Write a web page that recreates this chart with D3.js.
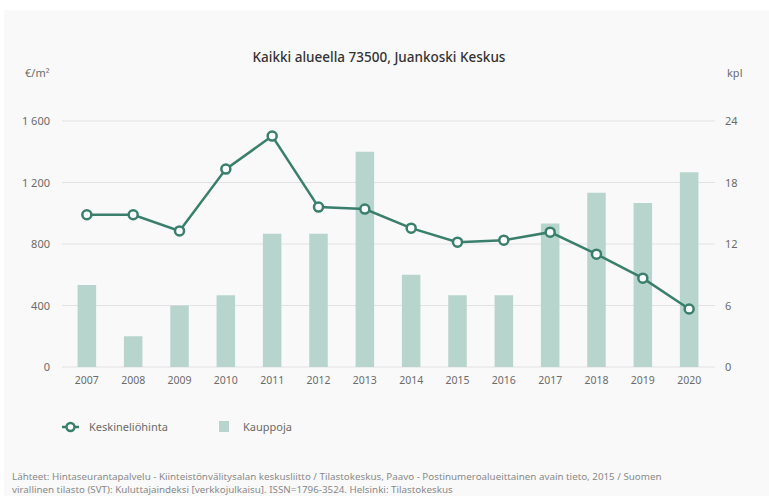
<!DOCTYPE html>
<html>
<head>
<meta charset="utf-8">
<script src="https://cdn.jsdelivr.net/npm/d3@7"></script>
<style>
  body { margin: 0; background: #fff; font-family: "Noto Sans", "Open Sans", sans-serif; }
  svg text { fill: #6b6b6b; }
</style>
</head>
<body>
<div id="chart"></div>
<script>
// Data
const years = ["2007","2008","2009","2010","2011","2012","2013","2014","2015","2016","2017","2018","2019","2020"];
const hinta = [990, 990, 885, 1287, 1502, 1040, 1027, 903, 812, 825, 877, 734, 578, 377];
const kauppoja = [8, 3, 6, 7, 13, 13, 21, 9, 7, 7, 14, 17, 16, 19];
const leftTicks = [0, 400, 800, 1200, 1600];
const rightTicks = [0, 6, 12, 18, 24];

const W = 769, H = 496;
const svg = d3.select("#chart").append("svg")
  .attr("width", W).attr("height", H);

// panel
svg.append("rect").attr("x", 4).attr("y", 10).attr("width", W - 4).attr("height", H - 10)
  .attr("fill", "#f9f9f9");

const x = d3.scaleBand().domain(years).range([66, 710]).paddingInner(0.6).paddingOuter(0.25);
const yL = d3.scaleLinear().domain([0, 1600]).range([367, 121]);
const yR = d3.scaleLinear().domain([0, 24]).range([367, 121]);

// gridlines
svg.append("g").selectAll("line").data(leftTicks).enter().append("line")
  .attr("x1", 62).attr("x2", 715)
  .attr("y1", d => yL(d)).attr("y2", d => yL(d))
  .attr("stroke", "#e2e2e2").attr("stroke-width", 1);

// left axis labels
svg.append("g").selectAll("text").data(leftTicks).enter().append("text")
  .attr("x", 50).attr("y", d => yL(d) + 4)
  .attr("text-anchor", "end").attr("font-size", 11)
  .text(d => d3.format(",")(d).replace(",", " "));

// right axis labels
svg.append("g").selectAll("text").data(rightTicks).enter().append("text")
  .attr("x", 725).attr("y", d => yR(d) + 4)
  .attr("font-size", 11)
  .text(d => d);

// unit labels
svg.append("text").attr("x", 25).attr("y", 77).attr("font-size", 11).text("€/m²");
svg.append("text").attr("x", 727).attr("y", 77).attr("font-size", 11).text("kpl");

// title
svg.append("text").attr("x", 379).attr("y", 62).attr("text-anchor", "middle")
  .attr("font-size", 13.5).attr("font-weight", 500).style("fill", "#333")
  .text("Kaikki alueella 73500, Juankoski Keskus");

// bars
svg.append("g").selectAll("rect").data(kauppoja).enter().append("rect")
  .attr("x", (d, i) => x(years[i]))
  .attr("width", x.bandwidth())
  .attr("y", d => yR(d))
  .attr("height", d => yR(0) - yR(d))
  .attr("fill", "#b8d5cd");

// x labels
svg.append("g").selectAll("text").data(years).enter().append("text")
  .attr("x", d => x(d) + x.bandwidth() / 2).attr("y", 384)
  .attr("text-anchor", "middle").attr("font-size", 10.5)
  .text(d => d);

// line
const cx = (d, i) => x(years[i]) + x.bandwidth() / 2;
const line = d3.line().x(cx).y(d => yL(d));
svg.append("path").datum(hinta)
  .attr("d", line).attr("fill", "none")
  .attr("stroke", "#3a7f6b").attr("stroke-width", 2.5);
svg.append("g").selectAll("circle").data(hinta).enter().append("circle")
  .attr("cx", cx).attr("cy", d => yL(d)).attr("r", 4.5)
  .attr("fill", "#fff").attr("stroke", "#3a7f6b").attr("stroke-width", 2.5);

// legend
const lg = svg.append("g");
lg.append("line").attr("x1", 62).attr("x2", 79).attr("y1", 427).attr("y2", 427)
  .attr("stroke", "#3a7f6b").attr("stroke-width", 2.5);
lg.append("circle").attr("cx", 70.5).attr("cy", 427).attr("r", 4)
  .attr("fill", "#fff").attr("stroke", "#3a7f6b").attr("stroke-width", 2.5);
lg.append("text").attr("x", 89).attr("y", 431).attr("font-size", 11).text("Keskineliöhinta");
lg.append("rect").attr("x", 219).attr("y", 421).attr("width", 10).attr("height", 11).attr("fill", "#b8d5cd");
lg.append("text").attr("x", 243).attr("y", 431).attr("font-size", 11).text("Kauppoja");

// footer
const foot = svg.append("g").attr("font-size", 9.8).style("fill", "#8a8a8a");
foot.append("text").attr("x", 12).attr("y", 480).style("fill", "#8a8a8a")
  .text("Lähteet: Hintaseurantapalvelu - Kiinteistönvälitysalan keskusliitto / Tilastokeskus, Paavo - Postinumeroalueittainen avain tieto, 2015 / Suomen");
foot.append("text").attr("x", 12).attr("y", 493).style("fill", "#8a8a8a")
  .text("virallinen tilasto (SVT): Kuluttajaindeksi [verkkojulkaisu]. ISSN=1796-3524. Helsinki: Tilastokeskus");
</script>
</body>
</html>
